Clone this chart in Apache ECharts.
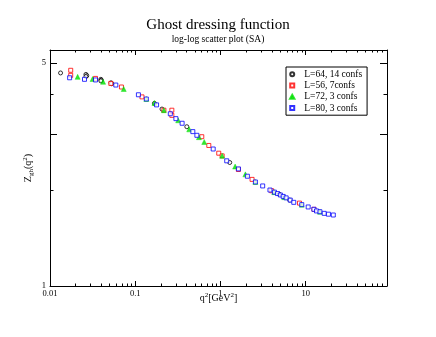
<!DOCTYPE html>
<html>
<head>
<meta charset="utf-8">
<script src="https://cdn.jsdelivr.net/npm/echarts@6/dist/echarts.min.js"></script>
<style>
  html, body { margin: 0; padding: 0; background: #fff; }
  #chart { width: 436px; height: 337px; }
</style>
</head>
<body>
<div id="chart"></div>
<script>
// q^2 [GeV^2] and Z_gh values, one pair of arrays per lattice
var qL64 = [0.0133, 0.0264, 0.0270, 0.0264, 0.0395, 0.0400, 0.0395, 0.052, 0.053, 0.168, 0.206, 0.403, 1.285, 4.9, 6.5]
var zL64 = [4.66, 4.61, 4.57, 4.54, 4.45, 4.42, 4.40, 4.34, 4.31, 3.74, 3.59, 3.16, 2.44, 1.94, 1.86]

var qL56 = [0.0175, 0.0175, 0.0342, 0.0517, 0.0689, 0.120, 0.217, 0.269, 0.269, 0.604, 0.730, 0.955, 1.047, 1.625, 2.35, 3.99, 8.46, 12.5]
var zL56 = [4.75, 4.58, 4.48, 4.32, 4.21, 3.92, 3.56, 3.56, 3.43, 2.94, 2.76, 2.61, 2.56, 2.32, 2.16, 1.99, 1.82, 1.74]

var qL72 = [0.0211, 0.0316, 0.0420, 0.0733, 0.135, 0.168, 0.217, 0.319, 0.430, 0.559, 0.645, 1.047, 1.486, 1.96, 2.57, 4.28, 5.6, 9.0, 14.7]
var zL72 = [4.53, 4.46, 4.37, 4.15, 3.86, 3.75, 3.56, 3.31, 3.10, 2.93, 2.83, 2.56, 2.37, 2.24, 2.12, 1.97, 1.90, 1.80, 1.71]

var qL80 = [0.017, 0.0254, 0.0342, 0.0592, 0.109, 0.135, 0.178, 0.258, 0.300, 0.355, 0.474, 0.529, 0.822, 1.185, 1.625, 2.07, 2.57, 3.13, 3.81, 4.30, 4.67, 5.05, 5.45, 5.9, 6.59, 7.25, 9.0, 10.7, 12.5, 13.4, 14.7, 16.5, 18.5, 21.1]
var zL80 = [4.50, 4.45, 4.43, 4.27, 3.98, 3.86, 3.70, 3.47, 3.35, 3.24, 3.05, 2.97, 2.69, 2.47, 2.33, 2.21, 2.12, 2.06, 2.00, 1.97, 1.95, 1.93, 1.91, 1.89, 1.86, 1.83, 1.80, 1.77, 1.74, 1.72, 1.71, 1.69, 1.68, 1.67]

var seriesNames = ['L=64, 14 confs', 'L=56, 7confs', 'L=72, 3 confs', 'L=80, 3 confs']

// ticks
var xMajor = [0.01, 0.1, 1, 10]
var xMinor = [0.02, 0.03, 0.04, 0.05, 0.06, 0.07, 0.08, 0.09,
  0.2, 0.3, 0.4, 0.5, 0.6, 0.7, 0.8, 0.9,
  2, 3, 4, 5, 6, 7, 8, 9,
  20, 30, 40, 50, 60, 70, 80]
var yLabels = [1, 5]
var yMajor = [1, 3, 5]
var yMinor = [2, 4]

var serif = 'Liberation Serif'
// square / triangle as paths so the legend keeps them square
var squareSym = 'path://M0,0L10,0L10,10L0,10Z'
var triSym = 'path://M5,0L10,9L0,9Z'

function pairs (qs, zs) {
  var out = []
  for (var i = 0; i < qs.length; i++) out.push([qs[i], zs[i]])
  return out
}

function fmt (v) {
  return String(Number(v.toPrecision(3)))
}

var nameRich = {
  n: { fontFamily: serif, fontSize: 10, lineHeight: 13, color: '#000' },
  sub: { fontFamily: serif, fontSize: 7, lineHeight: 8, verticalAlign: 'bottom', color: '#000' },
  sup: { fontFamily: serif, fontSize: 7, lineHeight: 8, verticalAlign: 'top', color: '#000' }
}

// one axis per tick size and side, so major/minor ticks can differ in length
function xAx (pos, ticks, len, labels, withLine, name) {
  return {
    type: 'log', position: pos, min: 0.01, max: 90,
    axisLine: { show: withLine, lineStyle: { color: '#000', width: 1 } },
    axisTick: { show: true, inside: true, length: len, customValues: ticks, lineStyle: { color: '#000' } },
    axisLabel: labels ? { show: true, customValues: labels, margin: 3, color: '#000', fontFamily: serif, fontSize: 8.5, formatter: fmt } : { show: false },
    splitLine: { show: false },
    minorTick: { show: false },
    name: name || '',
    nameLocation: 'middle',
    nameGap: 6,
    nameMoveOverlap: false,
    nameTextStyle: { color: '#000', fontFamily: serif, fontSize: 10, rich: nameRich }
  }
}

function yAx (pos, ticks, len, labels, withLine, name) {
  return {
    type: 'log', position: pos, min: 1, max: 5.5,
    axisLine: { show: withLine, lineStyle: { color: '#000', width: 1 } },
    axisTick: { show: true, inside: true, length: len, customValues: ticks, lineStyle: { color: '#000' } },
    axisLabel: labels ? { show: true, customValues: labels, margin: 4, color: '#000', fontFamily: serif, fontSize: 8.5, formatter: fmt } : { show: false },
    splitLine: { show: false },
    minorTick: { show: false },
    name: name || '',
    nameLocation: 'middle',
    nameGap: 15,
    nameMoveOverlap: false,
    nameTextStyle: { color: '#000', fontFamily: serif, fontSize: 10, rich: nameRich }
  }
}

var chart = echarts.init(document.getElementById('chart'))

var option = {
  backgroundColor: '#fff',
  animation: false,
  title: [
    { text: 'Ghost dressing function', left: 'center', top: 13, textStyle: { fontFamily: serif, fontSize: 15, fontWeight: 'normal', color: '#000' } },
    { text: 'log-log scatter plot (SA)', left: 'center', top: 29, textStyle: { fontFamily: serif, fontSize: 9.5, fontWeight: 'normal', color: '#000' } }
  ],
  grid: { left: 50, top: 50, right: 49, bottom: 51 },
  legend: {
    orient: 'vertical',
    left: 286, top: 67,
    padding: [1.5, 5, 1.5, 3],
    itemGap: 0,
    itemWidth: 14,
    itemHeight: 4,
    symbolKeepAspect: true,
    borderColor: '#000',
    borderWidth: 1,
    borderRadius: 0,
    backgroundColor: '#fff',
    textStyle: { fontFamily: serif, fontSize: 9.5, color: '#000', lineHeight: 11.3 },
    data: seriesNames
  },
  xAxis: [
    xAx('bottom', xMajor, 5, xMajor, true, '{n|q}{sup|2}{n|[GeV}{sup|2}{n|]}'),
    xAx('bottom', xMinor, 2.5, null, false),
    xAx('top', xMajor, 5, null, true),
    xAx('top', xMinor, 2.5, null, false)
  ],
  yAxis: [
    yAx('left', yMajor, 7, yLabels, true, '{n|Z}{sub|gh}{n|(q}{sup|2}{n|)}'),
    yAx('left', yMinor, 3.5, null, false),
    yAx('right', yMajor, 7, null, true),
    yAx('right', yMinor, 3.5, null, false)
  ],
  series: [
    {
      name: seriesNames[0], type: 'scatter', data: pairs(qL64, zL64),
      symbol: 'circle', symbolSize: 4,
      itemStyle: { color: '#fff', borderColor: '#000', borderWidth: 1 }
    },
    {
      name: seriesNames[1], type: 'scatter', data: pairs(qL56, zL56),
      symbol: squareSym, symbolSize: 4,
      itemStyle: { color: '#fff', borderColor: '#ff0000', borderWidth: 1 }
    },
    {
      name: seriesNames[2], type: 'scatter', data: pairs(qL72, zL72),
      symbol: triSym, symbolSize: 5,
      itemStyle: { color: '#00e000', borderColor: '#00e000', borderWidth: 0.5 }
    },
    {
      name: seriesNames[3], type: 'scatter', data: pairs(qL80, zL80),
      symbol: squareSym, symbolSize: 4,
      itemStyle: { color: '#fff', borderColor: '#0000ff', borderWidth: 1 }
    }
  ]
}

chart.setOption(option)
</script>
</body>
</html>
